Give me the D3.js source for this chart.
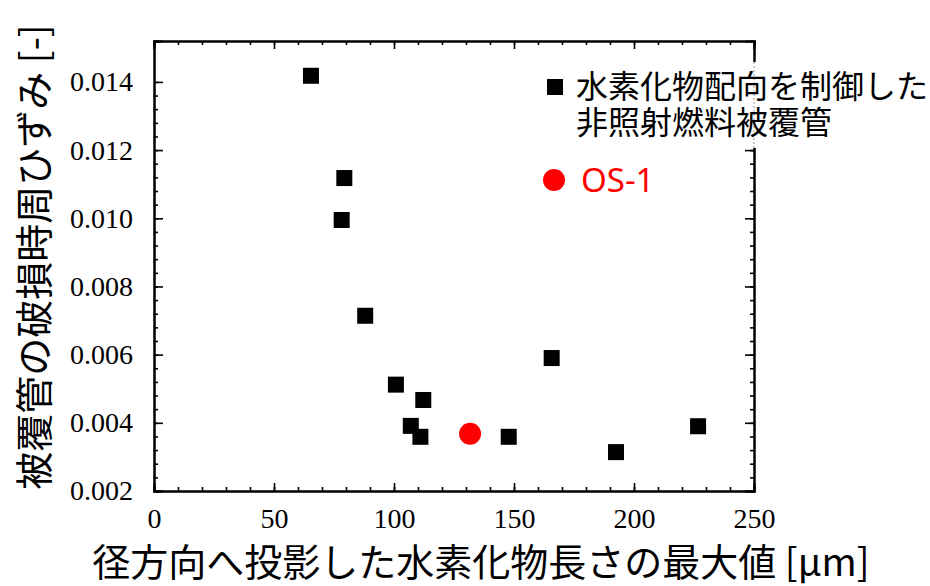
<!DOCTYPE html>
<html>
<head>
<meta charset="utf-8">
<script src="https://cdn.jsdelivr.net/npm/d3@7"></script>
<style>
  html, body { margin: 0; padding: 0; background: #fff; }
  svg { display: block; }
  .tick text { font-family: 'Liberation Serif', 'Times New Roman', serif !important; font-size: 28px; fill: #000; }
</style>
</head>
<body>
<svg id="chart" width="930" height="586"></svg>
<script>
// Hydride length vs. hoop strain at cladding failure
const orientedLength = [65.4, 79.3, 78.2, 88.0, 100.8, 112.2, 107.0, 111.0, 147.8, 165.7, 192.5, 226.7];
const orientedStrain = [0.01418, 0.01118, 0.00995, 0.00714, 0.00512, 0.00467, 0.00391, 0.00359, 0.00359, 0.0059, 0.00314, 0.0039];
const os1Length = [131.7];
const os1Strain = [0.00368];

const xTicks = [0, 50, 100, 150, 200, 250];
const yTicks = [0.002, 0.004, 0.006, 0.008, 0.010, 0.012, 0.014];

const legendLines = ["水素化物配向を制御した", "非照射燃料被覆管"];
const legendOS = "OS-1";
const xTitle = "径方向へ投影した水素化物長さの最大値 [μm]";
const yTitle = "被覆管の破損時周ひずみ [-]";

const svg = d3.select("#chart");
const plotL = 154, plotR = 754, plotT = 41, plotB = 491;

const x = d3.scaleLinear().domain([0, 250]).range([plotL, plotR]);
const y = d3.scaleLinear().domain([0.002, 0.0152]).range([plotB, plotT]);

const cjk = "'Noto Sans CJK JP', 'Noto Sans', sans-serif";

const xMinor = d3.range(0, 251, 10);
const yMinor = d3.range(0, 31).map(i => 0.002 + i * 0.0004).filter(v => v <= 0.0152 + 1e-9);

// Axes with inward ticks on all four sides
function styleAxis(g) {
  g.attr("font-family", null).attr("font-size", null);
  g.selectAll("path.domain").attr("stroke", "#000").attr("stroke-width", 2);
  g.selectAll(".tick line").attr("stroke", "#000").attr("stroke-width", 1.6);
}

// bottom
svg.append("g").attr("transform", `translate(0,${plotB})`)
  .call(d3.axisBottom(x).tickValues(xMinor).tickSize(-4).tickFormat(""))
  .call(styleAxis);
svg.append("g").attr("transform", `translate(0,${plotB})`)
  .call(d3.axisBottom(x).tickValues(xTicks).tickSize(-8).tickPadding(17).tickFormat(d3.format("d")))
  .call(styleAxis);
// top
svg.append("g").attr("transform", `translate(0,${plotT})`)
  .call(d3.axisTop(x).tickValues(xMinor).tickSize(-4).tickFormat(""))
  .call(styleAxis);
svg.append("g").attr("transform", `translate(0,${plotT})`)
  .call(d3.axisTop(x).tickValues(xTicks).tickSize(-8).tickFormat(""))
  .call(styleAxis);
// left
svg.append("g").attr("transform", `translate(${plotL},0)`)
  .call(d3.axisLeft(y).tickValues(yMinor).tickSize(-4).tickFormat(""))
  .call(styleAxis);
svg.append("g").attr("transform", `translate(${plotL},0)`)
  .call(d3.axisLeft(y).tickValues(yTicks).tickSize(-9).tickPadding(21).tickFormat(d3.format(".3f")))
  .call(styleAxis);
// right
svg.append("g").attr("transform", `translate(${plotR},0)`)
  .call(d3.axisRight(y).tickValues(yMinor).tickSize(-4).tickFormat(""))
  .call(styleAxis);
svg.append("g").attr("transform", `translate(${plotR},0)`)
  .call(d3.axisRight(y).tickValues(yTicks).tickSize(-9).tickFormat(""))
  .call(styleAxis);

// Data markers
const sq = 16;
svg.append("g").selectAll("rect")
  .data(orientedLength.map((v, i) => [v, orientedStrain[i]]))
  .join("rect")
  .attr("x", d => x(d[0]) - sq / 2)
  .attr("y", d => y(d[1]) - sq / 2)
  .attr("width", sq).attr("height", sq)
  .attr("fill", "#000");

svg.append("g").selectAll("circle")
  .data(os1Length.map((v, i) => [v, os1Strain[i]]))
  .join("circle")
  .attr("cx", d => x(d[0]))
  .attr("cy", d => y(d[1]))
  .attr("r", 11)
  .attr("fill", "#ff0000");

// Legend (opaque box over the right frame)
const lg = svg.append("g");
lg.append("rect").attr("x", 540).attr("y", 62).attr("width", 390).attr("height", 86).attr("fill", "#fff");
lg.append("line").attr("x1", plotR).attr("x2", plotR).attr("y1", 62).attr("y2", 148)
  .attr("stroke", "#999").attr("stroke-width", 1).attr("stroke-dasharray", "2,2");
lg.append("rect").attr("x", 547).attr("y", 79).attr("width", 16).attr("height", 16).attr("fill", "#000");
lg.selectAll("text.ll").data(legendLines).join("text")
  .attr("class", "ll")
  .attr("x", 576).attr("y", (d, i) => 98 + i * 36)
  .attr("font-family", cjk).attr("font-size", 32).attr("fill", "#000")
  .text(d => d);
lg.append("circle").attr("cx", 554).attr("cy", 180).attr("r", 11).attr("fill", "#ff0000");
lg.append("text").attr("x", 581).attr("y", 192)
  .attr("font-family", "'Noto Sans', 'Open Sans', sans-serif").attr("font-size", 33).attr("fill", "#ff0000")
  .text(legendOS);

// Axis titles
svg.append("text")
  .attr("x", 481).attr("y", 576)
  .attr("text-anchor", "middle")
  .attr("font-family", cjk).attr("font-size", 38).attr("fill", "#000")
  .text(xTitle);
svg.append("text")
  .attr("transform", "translate(48,257) rotate(-90)")
  .attr("text-anchor", "middle")
  .attr("font-family", cjk).attr("font-size", 38).attr("fill", "#000")
  .text(yTitle);
</script>
</body>
</html>
